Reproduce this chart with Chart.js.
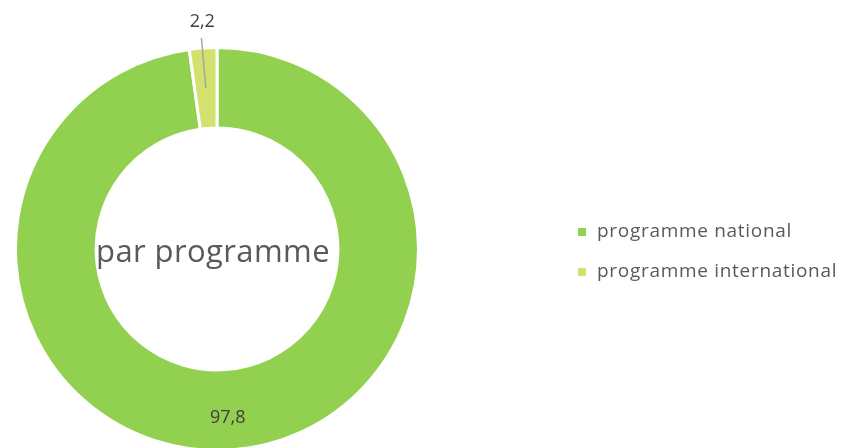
<!DOCTYPE html>
<html><head><meta charset="utf-8">
<script src="https://cdn.jsdelivr.net/npm/chart.js@4/dist/chart.umd.min.js"></script>
<style>html,body{margin:0;padding:0;background:#fff;overflow:hidden;width:844px;height:448px}#wrap{position:relative;width:844px;height:452px}</style>
</head><body><div id="wrap"><canvas id="c"></canvas></div>
<script>
const categories = ["programme national", "programme international"];
const values = [97.8, 2.2];
const valueLabels = ["97,8", "2,2"];
const centerTitle = "par programme";
const colors = ["#92D050", "#D3E16F"];
const FONT = "'Open Sans', sans-serif";

const labelPlugin = {
  id: 'labels',
  afterDatasetsDraw(chart) {
    const ctx = chart.ctx;
    const meta = chart.getDatasetMeta(0);
    ctx.save();
    ctx.textAlign = 'center';
    ctx.textBaseline = 'middle';
    meta.data.forEach((arc, i) => {
      const p = arc.getProps(['x','y','startAngle','endAngle','innerRadius','outerRadius'], true);
      const mid = (p.startAngle + p.endAngle) / 2;
      const rm = (p.innerRadius + p.outerRadius) / 2;
      ctx.fillStyle = '#404040';
      ctx.font = '18px ' + FONT;
      if (i === 0) {
        const r = rm + 8;
        ctx.fillText(valueLabels[i], p.x + r * Math.cos(mid) - 1, p.y + r * Math.sin(mid));
      } else {
        const x0 = p.x + rm * Math.cos(mid), y0 = p.y + rm * Math.sin(mid);
        const r1 = p.outerRadius + 10;
        const x1 = p.x + r1 * Math.cos(mid), y1 = p.y + r1 * Math.sin(mid);
        ctx.strokeStyle = '#A6A6A6';
        ctx.lineWidth = 1.5;
        ctx.beginPath(); ctx.moveTo(x0, y0); ctx.lineTo(x1 - 1, y1); ctx.stroke();
        const r2 = p.outerRadius + 26;
        ctx.fillText(valueLabels[i], p.x + r2 * Math.cos(mid) + 1, p.y + r2 * Math.sin(mid));
      }
    });
    const a = meta.data[0];
    ctx.fillStyle = '#595959';
    ctx.font = '31px ' + FONT;
    ctx.letterSpacing = '0.4px';
    ctx.fillText(centerTitle, a.x - 4, a.y + 4);
    // legend
    ctx.textAlign = 'left';
    ctx.font = '19px ' + FONT;
    ctx.letterSpacing = '0.7px';
    categories.forEach((c, i) => {
      const y = 232 + i * 40;
      ctx.fillStyle = colors[i];
      ctx.fillRect(578, y - 4, 8, 8);
      ctx.fillStyle = '#595959';
      ctx.fillText(c, 597, y);
    });
    ctx.restore();
  }
};

new Chart(document.getElementById('c'), {
  type: 'doughnut',
  data: { labels: categories, datasets: [{ data: values, backgroundColor: colors, borderColor: '#ffffff', borderWidth: 3 }] },
  options: {
    responsive: true, maintainAspectRatio: false, animation: false,
    cutout: '60%',
    layout: { padding: { left: 14, right: 424, top: 46, bottom: 0 } },
    plugins: { legend: { display: false }, tooltip: { enabled: false } }
  },
  plugins: [labelPlugin]
});
</script></body></html>
